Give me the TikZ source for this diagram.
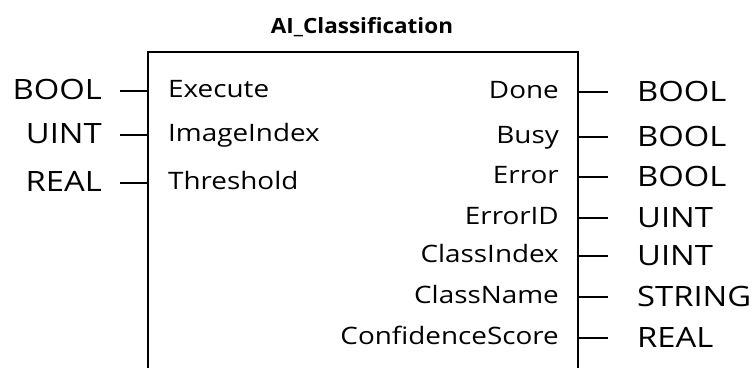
\documentclass[tikz,border=0pt]{standalone}
\usepackage{fontspec}
\setmainfont{Open Sans}
\newfontfamily\pinfam[FakeStretch=1.16]{Open Sans}
\newfontfamily\typfam[FakeStretch=1.17]{Open Sans}
\newfontfamily\ttlfam[FakeStretch=1.07]{Open Sans}
\begin{document}
\begin{tikzpicture}[x=1pt,y=-1pt,
  box/.style={line width=2pt},
  stub/.style={line width=1.8pt},
  pin/.style={font=\pinfam\fontsize{24}{28}\selectfont, inner sep=0pt},
  typ/.style={font=\typfam\fontsize{28}{32}\selectfont, inner sep=0pt},
  ttl/.style={font=\ttlfam\bfseries\fontsize{21}{24}\selectfont, inner sep=0pt}]
\useasboundingbox (0,0) rectangle (752,367);
\node[ttl, anchor=base] (title) at (362,33) {AI\_Classification};
\coordinate (bl) at (148,368);
\coordinate (br) at (578,368);
\coordinate (tl) at (148,52);
\coordinate (tr) at (578,52);
\draw[box] (bl) -- (tl) -- (tr) -- (br);
% inputs
\foreach \n/\lab/\t/\y in {i1/Execute/BOOL/91, i2/ImageIndex/UINT/135, i3/Threshold/REAL/183}{
  \node[pin, anchor=base west] (\n) at (168,\y+6) {\lab};
  \node[typ, anchor=base east] (t\n) at (102,\y+8) {\t};
  \coordinate (s\n) at (148,\y);
  \coordinate (e\n) at (120,\y);
  \draw[stub] (e\n) -- (s\n);
}
% outputs
\foreach \n/\lab/\t/\y in {o1/Done/BOOL/92, o2/Busy/BOOL/137, o3/Error/BOOL/177, o4/ErrorID/UINT/218, o5/ClassIndex/UINT/256, o6/ClassName/STRING/297, o7/ConfidenceScore/REAL/338}{
  \node[pin, anchor=base east] (\n) at (559,\y+6) {\lab};
  \node[typ, anchor=base west] (t\n) at (637,\y+9) {\t};
  \coordinate (s\n) at (578,\y);
  \coordinate (e\n) at (608,\y);
  \draw[stub] (s\n) -- (e\n);
}
\end{tikzpicture}
\end{document}
